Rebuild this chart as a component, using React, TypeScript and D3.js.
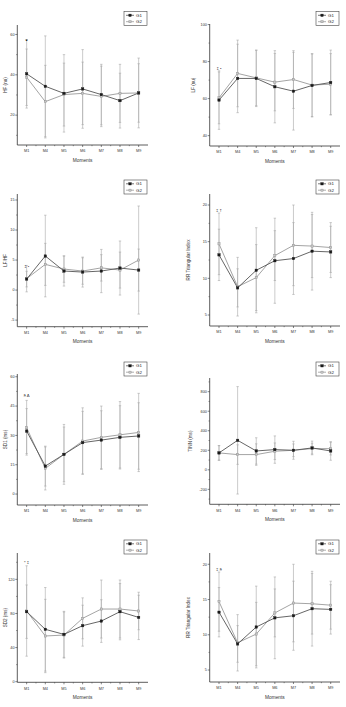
import React from 'react';
import * as d3 from 'd3';

const moments = ['M1', 'M4', 'M5', 'M6', 'M7', 'M8', 'M9'];
const groups = ['G1', 'G2'];

// HF (nu)
const hfG1 = [40.5, 34.3, 30.8, 33.0, 30.2, 27.2, 31.0];
const hfG1Sd = [17, 25, 19.2, 19.5, 15, 13.6, 17.3];
const hfG2 = [38.8, 26.7, 30.2, 30.8, 29.3, 30.8, 31.0];
const hfG2Sd = [14, 18, 15.6, 15.5, 15, 14.4, 14.5];
const hfTicks = [20, 40, 60];

// LF (nu)
const lfG1 = [59.2, 70.9, 70.9, 66.4, 64.0, 67.1, 68.7];
const lfG1Sd = [15.8, 18.5, 15.2, 19.5, 21, 17, 17.5];
const lfG2 = [60.4, 73.6, 71.2, 68.9, 70.3, 67.3, 67.8];
const lfG2Sd = [14, 18, 15, 15.5, 15.6, 17, 16.5];
const lfTicks = [40, 60, 80, 100];

// LF/HF
const ratioG1 = [1.83, 5.67, 3.17, 3.0, 3.17, 3.67, 3.33];
const ratioG1Sd = [1.3, 6.8, 2.5, 2.5, 3.6, 4.5, 3.5];
const ratioG2 = [1.9, 4.28, 3.5, 3.17, 3.7, 3.33, 5.0];
const ratioG2Sd = [2.2, 3.5, 2.2, 2.2, 2.2, 3, 9];
const ratioTicks = [-5, 0, 5, 10, 15];

// RR Triangular Index
const rrG1 = [13.2, 8.7, 11.1, 12.4, 12.7, 13.7, 13.6];
const rrG1Sd = [3.5, 2.6, 5.8, 5.8, 4.9, 5.3, 3.5];
const rrG2 = [14.7, 8.86, 10.1, 13.1, 14.5, 14.4, 14.2];
const rrG2Sd = [4.2, 4, 4.5, 3.4, 5.5, 4.3, 3.4];
const rrTicks = [5, 10, 15, 20];

// SD1 (ms)
const sd1G1 = [32.2, 14.3, 20.3, 26.3, 27.6, 29.0, 29.7];
const sd1G1Sd = [11.5, 10.2, 15.3, 16, 15, 16.2, 17];
const sd1G2 = [33.9, 13.1, 20.3, 27.1, 29.0, 30.3, 31.5];
const sd1G2Sd = [14, 11, 14, 17, 16, 17, 20];
const sd1Ticks = [0, 15, 30, 45, 60];

// TINN (ms)
const tinnG1 = [173, 302, 193, 207, 200, 224, 193];
const tinnG1Sd = [75, 550, 135, 140, 92, 70, 95];
const tinnG2 = [173, 156, 156, 190, 200, 217, 217];
const tinnG2Sd = [75, 100, 110, 85, 65, 55, 65];
const tinnTicks = [-200, 0, 200, 400, 600, 800];

// SD2 (ms)
const sd2G1 = [82.1, 61.4, 55.5, 65.7, 71.1, 82.1, 75.4];
const sd2G1Sd = [31.3, 49, 27, 24, 25, 33, 26];
const sd2G2 = [82.9, 53.6, 54.7, 74.3, 85.2, 85.2, 82.9];
const sd2G2Sd = [53, 43, 27, 24, 34, 34, 22];
const sd2Ticks = [0, 40, 80, 120];

// significance marks at M1
const hfNote = { text: '■', value: 57.5 };
const lfNote = { text: '‡ •', value: 76.5 };
const ratioNote = { text: '‡ •', value: 3.9 };
const rrNote = { text: '‡ †', value: 19.3 };
const sd1Note = { text: '§ Δ', value: 50.6 };
const sd2Note = { text: '* ‡', value: 140 };
const rr2Note = { text: '‡ §', value: 19.25 };

const FONT = 'Liberation Sans, Arial, sans-serif';

const panels = [
  { label: 'HF (nu)', g1: hfG1, g1s: hfG1Sd, g2: hfG2, g2s: hfG2Sd, ticks: hfTicks, domain: [5.2, 64.7], x0: 17.3, x1: 148, y0: 25, y1: 145, lx: 5, legX: 124, legY: 11.5, note: hfNote },
  { label: 'LF (nu)', g1: lfG1, g1s: lfG1Sd, g2: lfG2, g2s: lfG2Sd, ticks: lfTicks, domain: [34.4, 100.3], x0: 209.7, x1: 340, y0: 24, y1: 146, lx: 193.5, legX: 316, legY: 11.5, note: lfNote },
  { label: 'LF/HF', g1: ratioG1, g1s: ratioG1Sd, g2: ratioG2, g2s: ratioG2Sd, ticks: ratioTicks, domain: [-6.1, 16], x0: 17.3, x1: 148, y0: 194, y1: 326.7, lx: 5, legX: 124, legY: 180, note: ratioNote },
  { label: 'RR Triangular Index', g1: rrG1, g1s: rrG1Sd, g2: rrG2, g2s: rrG2Sd, ticks: rrTicks, domain: [3.5, 21.5], x0: 209.7, x1: 340, y0: 194, y1: 326, lx: 188, legX: 316, legY: 180, note: rrNote },
  { label: 'SD1 (ms)', g1: sd1G1, g1s: sd1G1Sd, g2: sd1G2, g2s: sd1G2Sd, ticks: sd1Ticks, domain: [-5.6, 61.4], x0: 17.3, x1: 148, y0: 374, y1: 505, lx: 5, legX: 124, legY: 362, note: sd1Note },
  { label: 'TINN (ms)', g1: tinnG1, g1s: tinnG1Sd, g2: tinnG2, g2s: tinnG2Sd, ticks: tinnTicks, domain: [-353, 940], x0: 209.7, x1: 340, y0: 378, y1: 504.3, lx: 190, legX: 316, legY: 362, note: null },
  { label: 'SD2 (ms)', g1: sd2G1, g1s: sd2G1Sd, g2: sd2G2, g2s: sd2G2Sd, ticks: sd2Ticks, domain: [-0.7, 150.9], x0: 17.3, x1: 148, y0: 553, y1: 682.3, lx: 5, legX: 124, legY: 540, note: sd2Note },
  { label: 'RR Triangular Index', g1: rrG1, g1s: rrG1Sd, g2: rrG2, g2s: rrG2Sd, ticks: rrTicks, domain: [3.3, 21.6], x0: 209.7, x1: 340, y0: 553, y1: 682, lx: 188, legX: 316, legY: 540, note: rr2Note },
];

const G1_COLOR = '#1a1a1a';
const G1_LINE = '#555';
const G2_COLOR = '#8a8a8a';
const G2_LINE = '#9a9a9a';
const ERR = '#a8a8a8';
const AXIS = '#333';

function Panel({ p }: { p: any }) {
  const x = d3.scalePoint<string>().domain(moments).range([p.x0, p.x1]).padding(0.5);
  const y = d3.scaleLinear().domain(p.domain).range([p.y1, p.y0]);
  const line = d3
    .line<number>()
    .x((_d, i) => x(moments[i])!)
    .y((d) => y(d));
  const step = p.ticks[1] - p.ticks[0];
  const minors = d3
    .range(p.ticks[0] - step / 2, p.ticks[p.ticks.length - 1] + step, step)
    .filter((v: number) => v >= p.domain[0] && v <= p.domain[1]);
  const series = [
    { vals: p.g2, sd: p.g2s, color: G2_COLOR, line: G2_LINE, fill: '#c8c8c8', size: 2.2, off: 0 },
    { vals: p.g1, sd: p.g1s, color: G1_COLOR, line: G1_LINE, fill: G1_COLOR, size: 2.4, off: 0 },
  ];
  const midY = (p.y0 + p.y1) / 2;
  const midX = (p.x0 + p.x1) / 2;
  return (
    <g fontFamily={FONT}>
      {/* error bars */}
      {series.map((s, si) =>
        s.vals.map((v: number, i: number) => {
          const cx = x(moments[i])! + s.off;
          const top = y(v + s.sd[i]);
          const bot = y(v - s.sd[i]);
          return (
            <g key={`e${si}-${i}`} stroke={ERR} strokeWidth={0.6}>
              <line x1={cx} x2={cx} y1={top} y2={bot} />
              <line x1={cx - 1.2} x2={cx + 1.2} y1={top} y2={top} />
              <line x1={cx - 1.2} x2={cx + 1.2} y1={bot} y2={bot} />
            </g>
          );
        })
      )}
      {/* lines */}
      {series.map((s, si) => (
        <path key={`l${si}`} d={line(s.vals)!} fill="none" stroke={s.line} strokeWidth={0.9} />
      ))}
      {/* markers */}
      {series.map((s, si) =>
        s.vals.map((v: number, i: number) => (
          <rect
            key={`m${si}-${i}`}
            x={x(moments[i])! - s.size / 2}
            y={y(v) - s.size / 2}
            width={s.size}
            height={s.size}
            fill={s.fill}
            stroke={s.color}
            strokeWidth={0.4}
          />
        ))
      )}
      {/* y axis */}
      <line x1={p.x0} x2={p.x0} y1={p.y0} y2={p.y1} stroke={AXIS} strokeWidth={0.8} />
      {p.ticks.map((t: number) => (
        <g key={`yt${t}`}>
          <line x1={p.x0 - 2} x2={p.x0} y1={y(t)} y2={y(t)} stroke={AXIS} strokeWidth={0.6} />
          <text x={p.x0 - 2.8} y={y(t)} dy="0.35em" fontSize={3.8} textAnchor="end" fill="#333">
            {t}
          </text>
        </g>
      ))}
      {minors.map((t: number) => (
        <line key={`ym${t}`} x1={p.x0 - 1.2} x2={p.x0} y1={y(t)} y2={y(t)} stroke={AXIS} strokeWidth={0.5} />
      ))}
      {/* x axis */}
      <line x1={p.x0} x2={p.x1} y1={p.y1} y2={p.y1} stroke={AXIS} strokeWidth={0.8} />
      {moments.map((m) => (
        <g key={`xt${m}`}>
          <line x1={x(m)} x2={x(m)} y1={p.y1} y2={p.y1 + 2} stroke={AXIS} strokeWidth={0.6} />
          <text x={x(m)} y={p.y1 + 6} dy="0.35em" fontSize={3.8} textAnchor="middle" fill="#333">
            {m}
          </text>
        </g>
      ))}
      {moments.slice(0, -1).map((m, i) => (
        <line
          key={`xm${m}`}
          x1={(x(m)! + x(moments[i + 1])!) / 2}
          x2={(x(m)! + x(moments[i + 1])!) / 2}
          y1={p.y1}
          y2={p.y1 + 1.2}
          stroke={AXIS}
          strokeWidth={0.5}
        />
      ))}
      <text x={midX} y={p.y1 + 15} dy="0.35em" fontSize={4.8} textAnchor="middle" fill="#333">
        Moments
      </text>
      <text
        transform={`translate(${p.lx},${midY}) rotate(-90)`}
        dy="0.35em"
        fontSize={4.6}
        textAnchor="middle"
        fill="#333"
      >
        {p.label}
      </text>
      {/* annotation */}
      {p.note && (
        <text x={x('M1')} y={y(p.note.value)} dy="0.35em" fontSize={p.note.text === '■' ? 3 : 4.2} textAnchor="middle" fill="#222">
          {p.note.text}
        </text>
      )}
      {/* legend */}
      <g transform={`translate(${p.legX},${p.legY})`}>
        <rect x={0} y={0} width={23} height={14} fill="#fff" stroke="#444" strokeWidth={0.6} />
        {groups.map((g, gi) => {
          const s = gi === 0 ? series[1] : series[0];
          const ly = 3.8 + gi * 6.4;
          return (
            <g key={g}>
              <line x1={2} x2={10} y1={ly} y2={ly} stroke={s.line} strokeWidth={0.8} />
              <rect x={6 - s.size / 2} y={ly - s.size / 2} width={s.size} height={s.size} fill={s.fill} stroke={s.color} strokeWidth={0.4} />
              <text x={12} y={ly} dy="0.35em" fontSize={4.4} fill="#222">
                {g}
              </text>
            </g>
          );
        })}
      </g>
    </g>
  );
}

export default function App() {
  return (
    <svg
      width={346}
      height={707}
      viewBox="0 0 346 707"
      style={{ position: 'absolute', left: 0, top: 0, background: '#fff' }}
    >
      <rect x={0} y={0} width={346} height={707} fill="#fff" />
      {panels.map((p, i) => (
        <Panel key={i} p={p} />
      ))}
    </svg>
  );
}
